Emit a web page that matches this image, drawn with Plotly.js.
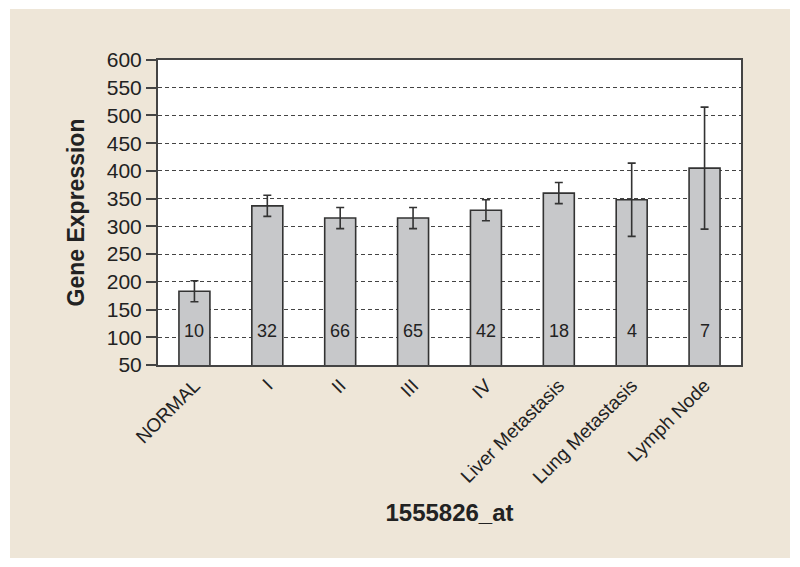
<!DOCTYPE html>
<html>
<head>
<meta charset="utf-8">
<script src="https://cdn.plot.ly/plotly-3.0.1.min.js"></script>
<style>
  html, body { margin: 0; padding: 0; background: #ffffff; width: 800px; height: 567px; overflow: hidden; }
  #chart { position: absolute; left: 10px; top: 9px; width: 780px; height: 549px; }
</style>
</head>
<body>
<div id="chart"></div>
<script>
const categories = ["NORMAL", "I", "II", "III", "IV", "Liver Metastasis", "Lung Metastasis", "Lymph Node"];
const values = [183, 337, 315, 315, 329, 360, 348, 405];
const errors = [19, 19, 19, 19, 19, 19, 66, 110];
const counts = ["10", "32", "66", "65", "42", "18", "4", "7"];
const yTicks = [50, 100, 150, 200, 250, 300, 350, 400, 450, 500, 550, 600];
const countLabelY = 112;

const FONT = "'Liberation Sans', Arial, sans-serif";

const trace = {
  type: "bar",
  x: categories,
  y: values,
  marker: { color: "#c7c8ca", line: { color: "#333333", width: 1.6 } },
  error_y: { type: "data", array: errors, visible: true, color: "#333333", thickness: 1.6, width: 4 },
  hoverinfo: "x+y"
};

const annotations = categories.map((c, i) => ({
  x: c, y: countLabelY, xref: "x", yref: "y",
  text: counts[i], showarrow: false,
  font: { family: FONT, size: 18, color: "#222222" }
}));

const layout = {
  width: 780, height: 549,
  margin: { l: 148, r: 49, t: 51, b: 193 },
  paper_bgcolor: "#eee6d8",
  plot_bgcolor: "#ffffff",
  showlegend: false,
  bargap: 0.575,
  font: { family: FONT, color: "#222222" },
  xaxis: {
    type: "category",
    range: [-0.5, 7.5],
    tickangle: -45,
    tickfont: { family: FONT, size: 19, color: "#222222" },
    showgrid: false,
    showline: true, linecolor: "#444444", linewidth: 2, mirror: true,
    ticks: "",
    title: { text: "<b>1555826_at</b>", font: { family: FONT, size: 24, color: "#222222" }, standoff: 18 }
  },
  yaxis: {
    range: [50, 600],
    tickvals: yTicks,
    ticktext: yTicks.map(String),
    tickfont: { family: FONT, size: 21, color: "#222222" },
    ticks: "outside", ticklen: 10, tickwidth: 2, tickcolor: "#444444",
    showgrid: true, gridcolor: "#444444", gridwidth: 1, griddash: "4px,3px",
    zeroline: false,
    showline: true, linecolor: "#444444", linewidth: 2, mirror: true,
    title: { text: "<b>Gene Expression</b>", font: { family: FONT, size: 23, color: "#222222" }, standoff: 16 }
  },
  annotations: annotations
};

Plotly.newPlot("chart", [trace], layout, { displayModeBar: false, staticPlot: true });
</script>
</body>
</html>
